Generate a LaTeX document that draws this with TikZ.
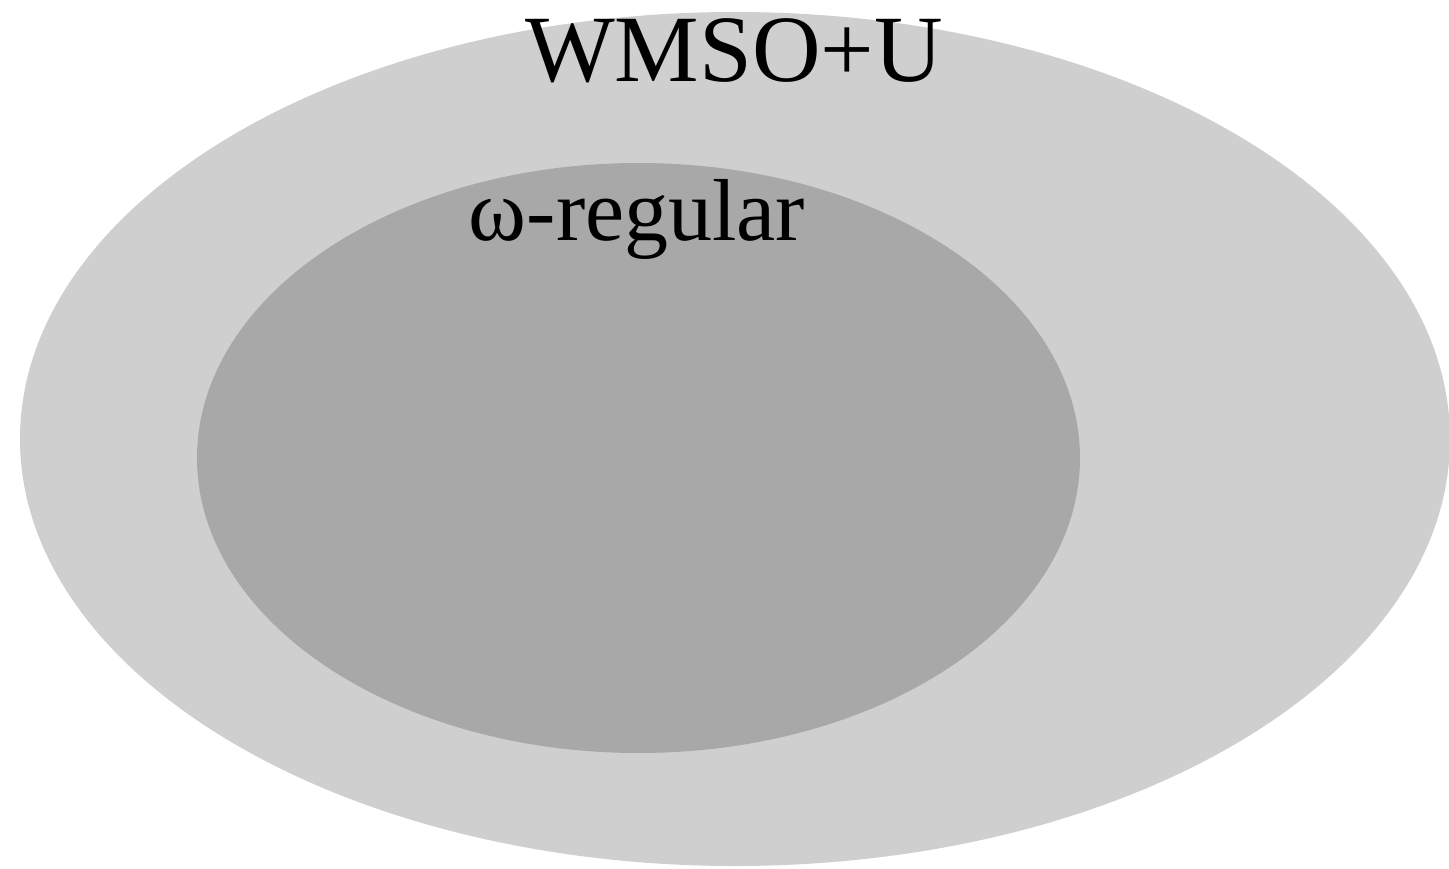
\documentclass[tikz,border=0pt]{standalone}
\usepackage{fontspec}
\setmainfont{Liberation Serif}
\definecolor{outerfill}{HTML}{CFCFCF}
\definecolor{innerfill}{HTML}{A8A8A8}
\begin{document}
\begin{tikzpicture}[x=1pt,y=-1pt,
  region/.style={draw=none},
  setlabel/.style={anchor=base,inner sep=0pt,text=black}]
\useasboundingbox (0,0) rectangle (1449,868);
\begin{scope}
\clip (0,0) rectangle (1449,868);
% outer set and nested inner set
\fill[region,outerfill] (735,439) ellipse [x radius=715, y radius=427];
\fill[region,innerfill] (638.5,458) ellipse [x radius=441.5, y radius=295];
\end{scope}
\node[setlabel,font=\fontsize{95}{95}\selectfont] (wmso) at (734,81) {WMSO+U};
\node[setlabel,font=\fontsize{88}{88}\selectfont] (omega) at (637,240) {ω-regular};
\end{tikzpicture}
\end{document}
